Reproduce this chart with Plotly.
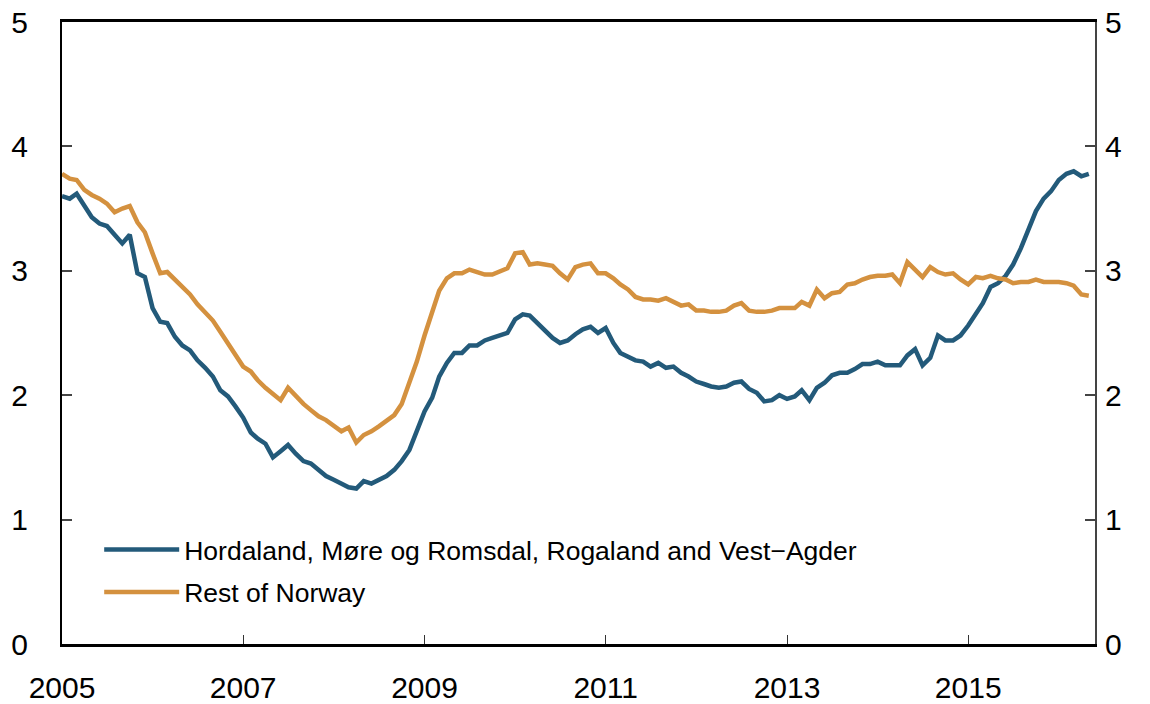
import pandas as pd
import plotly.graph_objects as go

start_month = "2005-01-01"
n_months = 137

hordaland = [
    3.60, 3.58, 3.62, 3.53, 3.43, 3.38, 3.36, 3.29, 3.22, 3.29, 2.98, 2.95,
    2.70, 2.59, 2.58, 2.47, 2.40, 2.36, 2.28, 2.22, 2.15, 2.04, 1.99, 1.91,
    1.82, 1.70, 1.65, 1.61, 1.50, 1.55, 1.60, 1.53, 1.47, 1.45, 1.40, 1.35,
    1.32, 1.29, 1.26, 1.25, 1.31, 1.29, 1.32, 1.35, 1.40, 1.47, 1.56, 1.72,
    1.87, 1.98, 2.15, 2.26, 2.34, 2.34, 2.40, 2.40, 2.44, 2.46, 2.48, 2.50,
    2.61, 2.65, 2.64, 2.58, 2.51, 2.46, 2.42, 2.44, 2.49, 2.53, 2.55, 2.50,
    2.54, 2.42, 2.34, 2.31, 2.28, 2.27, 2.23, 2.26, 2.22, 2.23, 2.18, 2.15,
    2.11, 2.09, 2.07, 2.06, 2.07, 2.10, 2.11, 2.05, 2.02, 1.95, 1.96, 2.00,
    1.97, 1.99, 2.04, 1.96, 2.06, 2.10, 2.16, 2.18, 2.18, 2.21, 2.25, 2.25,
    2.27, 2.24, 2.24, 2.24, 2.32, 2.37, 2.24, 2.30, 2.48, 2.44, 2.44, 2.48,
    2.56, 2.65, 2.74, 2.87, 2.90, 2.96, 3.05, 3.18, 3.34, 3.48, 3.58, 3.64,
    3.73, 3.78, 3.80, 3.76, 3.78,
]

rest_of_norway = [
    3.78, 3.74, 3.73, 3.65, 3.61, 3.58, 3.54, 3.47, 3.50, 3.52, 3.39, 3.31,
    3.14, 2.98, 2.99, 2.93, 2.86, 2.81, 2.73, 2.66, 2.60, 2.51, 2.42, 2.32,
    2.23, 2.19, 2.12, 2.06, 2.01, 1.96, 2.06, 1.99, 1.93, 1.88, 1.83, 1.80,
    1.76, 1.71, 1.74, 1.62, 1.68, 1.71, 1.75, 1.79, 1.84, 1.93, 2.10, 2.27,
    2.48, 2.67, 2.84, 2.94, 2.98, 2.98, 3.01, 2.99, 2.97, 2.97, 3.00, 3.02,
    3.14, 3.15, 3.05, 3.06, 3.05, 3.04, 2.98, 2.93, 3.03, 3.05, 3.06, 2.98,
    2.98, 2.94, 2.89, 2.85, 2.79, 2.77, 2.77, 2.76, 2.78, 2.75, 2.72, 2.73,
    2.68, 2.68, 2.67, 2.67, 2.68, 2.72, 2.74, 2.68, 2.67, 2.67, 2.68, 2.70,
    2.70, 2.70, 2.75, 2.72, 2.85, 2.78, 2.82, 2.83, 2.89, 2.90, 2.93, 2.95,
    2.96, 2.96, 2.97, 2.90, 3.07, 3.01, 2.95, 3.03, 2.99, 2.97, 2.98, 2.93,
    2.89, 2.95, 2.94, 2.96, 2.94, 2.93, 2.90, 2.91, 2.91, 2.93, 2.91, 2.91,
    2.91, 2.90, 2.88, 2.81, 2.80,
]

series_names = ["Hordaland, Møre og Romsdal, Rogaland and Vest\u2212Agder", "Rest of Norway"]
series_colors = ["#235A7A", "#D4913F"]

x_tick_dates = ["2005-01-01", "2007-01-01", "2009-01-01", "2011-01-01", "2013-01-01", "2015-01-01"]
x_tick_labels = ["2005", "2007", "2009", "2011", "2013", "2015"]
y_ticks = [0, 1, 2, 3, 4, 5]

dates = pd.date_range(start_month, periods=n_months, freq="MS")

FONT = "Liberation Sans, Arial, sans-serif"
TICKFONT = dict(family=FONT, size=30, color="black")
fig = go.Figure()
for name, vals, col in zip(series_names, [hordaland, rest_of_norway], series_colors):
    fig.add_trace(go.Scatter(x=dates, y=vals, mode="lines", name=name,
                             line=dict(color=col, width=4.5), legendgroup=name))
# invisible trace to anchor the right-hand axis
fig.add_trace(go.Scatter(x=dates, y=rest_of_norway, yaxis="y2", mode="lines",
                         line=dict(width=0), opacity=0, showlegend=False, hoverinfo="skip"))

fig.update_layout(
    width=1150, height=704,
    margin=dict(l=62, r=55, t=22, b=60, autoexpand=False),
    paper_bgcolor="white", plot_bgcolor="white",
    font=dict(family=FONT, size=27, color="black"),
    showlegend=True,
    legend=dict(x=0.036, y=0.19, xanchor="left", yanchor="top",
                font=dict(size=26.5), bgcolor="rgba(0,0,0,0)",
                itemwidth=75, tracegroupgap=5, traceorder="grouped"),
    xaxis=dict(type="date", range=["2005-01-01", "2016-05-26"],
               tickvals=x_tick_dates, ticktext=x_tick_labels, tickfont=TICKFONT,
               ticks="inside", ticklen=9, tickwidth=1, tickcolor="#333",
               showline=True, linecolor="black", linewidth=2.5, mirror=True,
               showgrid=False, zeroline=False, ticklabelstandoff=15, automargin=False,
               ticklabeloverflow="allow"),
    yaxis=dict(range=[0, 5], tickvals=y_ticks, ticks="inside", ticklen=10, tickfont=TICKFONT,
               tickwidth=1.5, tickcolor="#444", showline=True, linecolor="black",
               linewidth=2, showgrid=False, zeroline=False, ticklabelstandoff=26,
               automargin=False, ticklabeloverflow="allow"),
    yaxis2=dict(range=[0, 5], tickvals=y_ticks, overlaying="y", side="right", tickfont=TICKFONT,
                ticks="inside", ticklen=10, tickwidth=1.5, tickcolor="#444",
                showline=True, linecolor="#444", linewidth=2, showgrid=False,
                zeroline=False, ticklabelstandoff=2, automargin=False,
                ticklabeloverflow="allow"),
)

# remove the browser's default 8px page margin so the figure fills the window exactly
fig.write_html("out.html", config={"displayModeBar": False},
               post_script="document.body.style.margin='0';")
